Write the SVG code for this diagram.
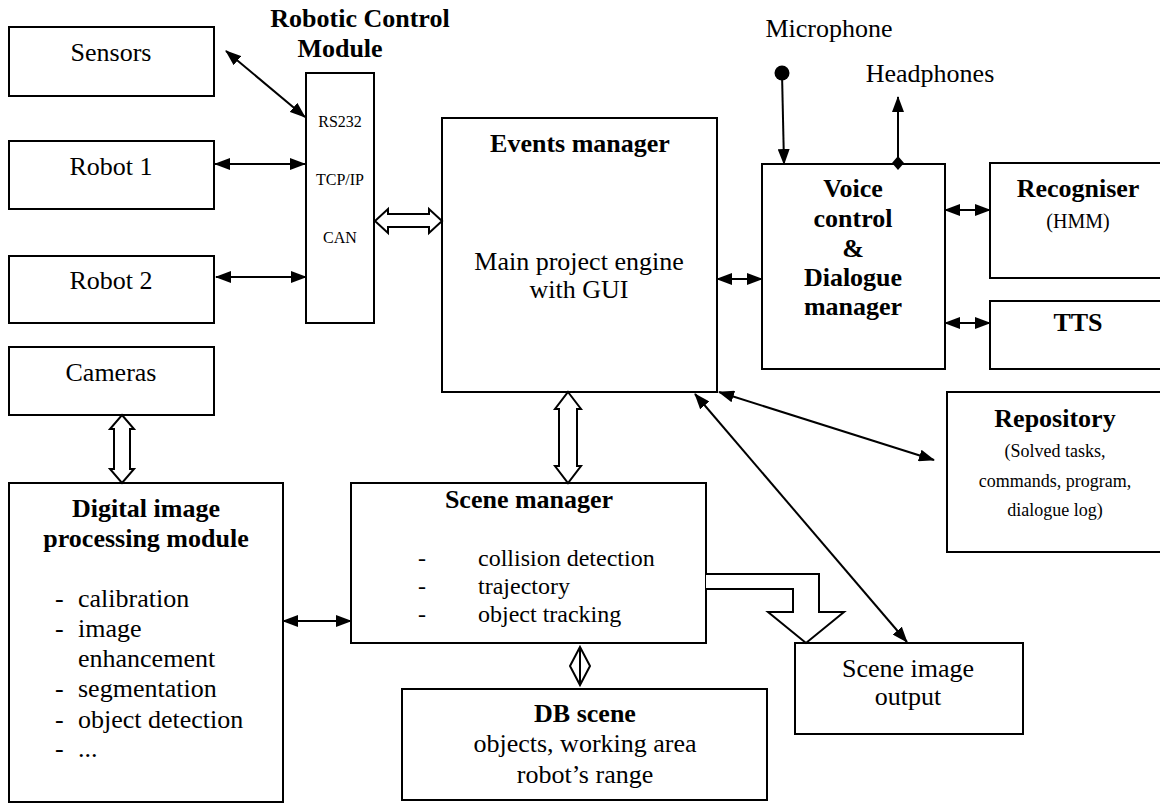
<svg xmlns="http://www.w3.org/2000/svg" width="1160" height="803" viewBox="0 0 1160 803" font-family="Liberation Serif, Times New Roman, serif">
<style>
.box{fill:#fff;stroke:#000;stroke-width:2}
.t{fill:#000;font-size:26px}
.b{font-weight:bold}
.m{text-anchor:middle}
.s16{font-size:16px}
.s18{font-size:18px}
.s20{font-size:20px}
.s24{font-size:24px}
.ln{stroke:#000;stroke-width:2;fill:none}
.ho{fill:#fff;stroke:#000;stroke-width:2;stroke-linejoin:miter}
</style>
<defs>
<marker id="ah" viewBox="0 0 16 12" refX="15" refY="6" markerWidth="16" markerHeight="12" markerUnits="userSpaceOnUse" orient="auto-start-reverse"><path d="M0,0 L16,6 L0,12 Z" fill="#000"/></marker>
</defs>

<g id="sensors"><rect class="box" x="9" y="27" width="205" height="69"/><text class="t m" x="111" y="61">Sensors</text></g>
<g id="robot1"><rect class="box" x="9" y="141" width="205" height="68"/><text class="t m" x="111" y="175">Robot 1</text></g>
<g id="robot2"><rect class="box" x="9" y="256" width="205" height="67"/><text class="t m" x="111" y="289">Robot 2</text></g>
<g id="rcm">
<text class="t b m" x="360" y="27">Robotic Control</text>
<text class="t b m" x="340" y="57">Module</text>
<rect class="box" x="306" y="73" width="68" height="250"/>
<text class="t s16 m" x="340" y="127">RS232</text>
<text class="t s16 m" x="340" y="185">TCP/IP</text>
<text class="t s16 m" x="340" y="243">CAN</text>
</g>
<g id="events"><rect class="box" x="442" y="118" width="275" height="274"/>
<text class="t b m" x="580" y="152">Events manager</text>
<text class="t m" x="579" y="270">Main project engine</text>
<text class="t m" x="579" y="298">with GUI</text></g>
<g id="microphone"><text class="t m" x="829" y="37">Microphone</text></g>
<g id="headphones"><text class="t m" x="930" y="82">Headphones</text></g>
<g id="voice"><rect class="box" x="762" y="164" width="183" height="205"/>
<text class="t b m" x="853" y="197">Voice</text>
<text class="t b m" x="853" y="227">control</text>
<text class="t b m" x="853" y="257">&amp;</text>
<text class="t b m" x="853" y="286">Dialogue</text>
<text class="t b m" x="853" y="315">manager</text></g>
<g id="recogniser"><rect class="box" x="990" y="163" width="190" height="115"/>
<text class="t b m" x="1078" y="197">Recogniser</text>
<text class="t s20 m" x="1078" y="228">(HMM)</text></g>
<g id="tts"><rect class="box" x="990" y="301" width="190" height="68"/>
<text class="t b m" x="1078" y="331">TTS</text></g>
<g id="repository"><rect class="box" x="947" y="392" width="230" height="160"/>
<text class="t b m" x="1055" y="427">Repository</text>
<text class="t s18 m" x="1055" y="457">(Solved tasks,</text>
<text class="t s18 m" x="1055" y="487">commands, program,</text>
<text class="t s18 m" x="1055" y="516">dialogue log)</text></g>
<g id="cameras"><rect class="box" x="9" y="347" width="205" height="68"/><text class="t m" x="111" y="381">Cameras</text></g>
<g id="digital"><rect class="box" x="9" y="483" width="274" height="319"/>
<text class="t b m" x="146" y="517">Digital image</text>
<text class="t b m" x="146" y="547">processing module</text>
<text class="t" x="55" y="607">-</text><text class="t" x="78" y="607">calibration</text>
<text class="t" x="55" y="637">-</text><text class="t" x="78" y="637">image</text>
<text class="t" x="78" y="667">enhancement</text>
<text class="t" x="55" y="697">-</text><text class="t" x="78" y="697">segmentation</text>
<text class="t" x="55" y="728">-</text><text class="t" x="78" y="728">object detection</text>
<text class="t" x="55" y="757">-</text><text class="t" x="78" y="757">...</text></g>
<g id="scene"><rect class="box" x="351" y="483" width="355" height="160"/>
<text class="t b m" x="529" y="508">Scene manager</text>
<text class="t s24" x="418" y="566">-</text><text class="t s24" x="478" y="566">collision detection</text>
<text class="t s24" x="418" y="594">-</text><text class="t s24" x="478" y="594">trajectory</text>
<text class="t s24" x="418" y="622">-</text><text class="t s24" x="478" y="622">object tracking</text></g>
<g id="dbscene"><rect class="box" x="402" y="689" width="365" height="111"/>
<text class="t b m" x="585" y="722">DB scene</text>
<text class="t m" x="585" y="752">objects, working area</text>
<text class="t m" x="585" y="783">robot’s range</text></g>
<g id="sceneoutput"><rect class="box" x="795" y="643" width="228" height="91"/>
<text class="t m" x="908" y="677">Scene image</text>
<text class="t m" x="908" y="705">output</text></g>

<g id="connectors">
<line class="ln" x1="226" y1="51" x2="305" y2="117" marker-start="url(#ah)" marker-end="url(#ah)"/>
<line class="ln" x1="215" y1="164" x2="305" y2="164" marker-start="url(#ah)" marker-end="url(#ah)"/>
<line class="ln" x1="216" y1="277" x2="306" y2="277" marker-start="url(#ah)" marker-end="url(#ah)"/>
<path class="ho" d="M375,221 L388,209 L388,214 L429,214 L429,209 L442,221 L429,233 L429,227 L388,227 L388,233 Z"/>
<path class="ho" d="M122,415 L134,429 L130,429 L130,469 L134,469 L122,483 L110,469 L114,469 L114,429 L110,429 Z"/>
<path class="ho" d="M568,392 L581,409 L577,409 L577,466 L581,466 L568,483 L555,466 L559,466 L559,409 L555,409 Z"/>
<path class="ho" d="M580,647 L590,666 L580,685 L570,666 Z"/>
<line class="ln" x1="580" y1="647" x2="580" y2="685"/>
<path class="ho" d="M706,574 L819,574 L819,612 L844,612 L806,643 L768,612 L793,612 L793,589 L706,589"/>
<line class="ln" x1="283" y1="621" x2="351" y2="621" marker-start="url(#ah)" marker-end="url(#ah)"/>
<line class="ln" x1="717" y1="279" x2="762" y2="279" marker-start="url(#ah)" marker-end="url(#ah)"/>
<line class="ln" x1="945" y1="210" x2="990" y2="210" marker-start="url(#ah)" marker-end="url(#ah)"/>
<line class="ln" x1="945" y1="323" x2="990" y2="323" marker-start="url(#ah)" marker-end="url(#ah)"/>
<line class="ln" x1="719" y1="392" x2="934" y2="460" marker-start="url(#ah)" marker-end="url(#ah)"/>
<line class="ln" x1="695" y1="394" x2="907" y2="642" marker-start="url(#ah)" marker-end="url(#ah)"/>
<circle cx="782" cy="73" r="7.5" fill="#000"/>
<line class="ln" x1="782" y1="73" x2="784" y2="164" marker-end="url(#ah)"/>
<line class="ln" x1="898" y1="163" x2="898" y2="97" marker-end="url(#ah)"/>
<path d="M898,156 L904,163 L898,170 L892,163 Z" fill="#000"/>
</g>
</svg>
